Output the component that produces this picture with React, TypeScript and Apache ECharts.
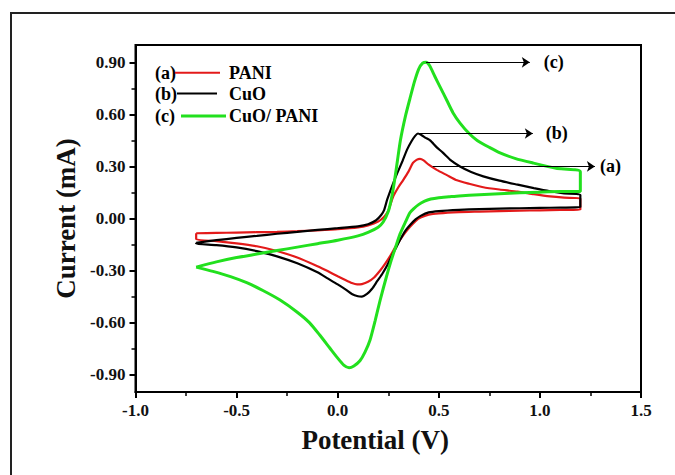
import React, { useEffect, useRef } from "react";
import * as echarts from "echarts";

const FONT = "'Liberation Serif', 'Times New Roman', serif";

const yMajorTicks = [-0.9, -0.6, -0.3, 0.0, 0.3, 0.6, 0.9];
const yMinorTicks = [-0.75, -0.45, -0.15, 0.15, 0.45, 0.75];

const seriesNames = ["PANI", "CuO", "CuO/ PANI"];
const seriesTags = ["(a)", "(b)", "(c)"];
const seriesColors = ["#e31a1a", "#000000", "#22e01e"];

// PANI (a) cyclic voltammogram [potential V, current mA]
const paniCV = [
  [-0.7, -0.085], [-0.6, -0.083], [-0.5, -0.081], [-0.4, -0.079], [-0.3, -0.077], [-0.2, -0.073],
  [-0.1, -0.068], [0.0, -0.062], [0.1, -0.052], [0.15, -0.04], [0.2, -0.018], [0.23, 0.01],
  [0.25, 0.045], [0.274, 0.125], [0.3, 0.18], [0.323, 0.22], [0.35, 0.27], [0.372, 0.32],
  [0.39, 0.338], [0.407, 0.344], [0.425, 0.335], [0.45, 0.31], [0.49, 0.28], [0.54, 0.25],
  [0.59, 0.22], [0.65, 0.2], [0.72, 0.18], [0.8, 0.167], [0.89, 0.155], [0.97, 0.14],
  [1.05, 0.127], [1.12, 0.12], [1.2, 0.115], [1.2, 0.05], [1.1, 0.049], [1.0, 0.047],
  [0.9, 0.045], [0.8, 0.043], [0.7, 0.04], [0.6, 0.037], [0.5, 0.03], [0.45, 0.022],
  [0.41, 0.005], [0.385, -0.015], [0.36, -0.045], [0.335, -0.08], [0.31, -0.12], [0.285, -0.165],
  [0.26, -0.215], [0.235, -0.26], [0.21, -0.3], [0.18, -0.34], [0.15, -0.365], [0.12, -0.378],
  [0.096, -0.38], [0.07, -0.372], [0.03, -0.35], [0.0, -0.333], [-0.05, -0.303], [-0.1, -0.275],
  [-0.2, -0.225], [-0.3, -0.187], [-0.4, -0.16], [-0.5, -0.143], [-0.6, -0.13], [-0.7, -0.12],
  [-0.7, -0.085],
];

// CuO (b)
const cuoCV = [
  [-0.7, -0.14], [-0.6, -0.125], [-0.5, -0.112], [-0.4, -0.1], [-0.3, -0.088], [-0.2, -0.077],
  [-0.1, -0.066], [0.0, -0.056], [0.1, -0.045], [0.15, -0.033], [0.19, -0.01], [0.215, 0.02],
  [0.23, 0.05], [0.245, 0.11], [0.27, 0.19], [0.294, 0.26], [0.32, 0.33], [0.343, 0.397],
  [0.365, 0.445], [0.382, 0.475], [0.397, 0.49], [0.415, 0.48], [0.435, 0.465], [0.457, 0.45],
  [0.49, 0.41], [0.52, 0.38], [0.56, 0.335], [0.605, 0.3], [0.66, 0.268], [0.72, 0.243],
  [0.8, 0.218], [0.89, 0.195], [0.97, 0.175], [1.05, 0.157], [1.12, 0.145], [1.2, 0.137],
  [1.2, 0.065], [1.1, 0.063], [1.0, 0.061], [0.9, 0.059], [0.8, 0.057], [0.7, 0.054],
  [0.6, 0.05], [0.5, 0.043], [0.45, 0.035], [0.41, 0.015], [0.385, -0.005], [0.36, -0.035],
  [0.335, -0.07], [0.31, -0.12], [0.29, -0.165], [0.27, -0.21], [0.245, -0.27], [0.22, -0.32],
  [0.196, -0.36], [0.17, -0.405], [0.145, -0.435], [0.12, -0.45], [0.1, -0.448], [0.07, -0.435],
  [0.04, -0.41], [0.0, -0.38], [-0.05, -0.345], [-0.1, -0.31], [-0.2, -0.258], [-0.3, -0.218],
  [-0.4, -0.188], [-0.5, -0.166], [-0.6, -0.153], [-0.7, -0.145], [-0.7, -0.14],
];

// CuO/PANI (c)
const cuoPaniCV = [
  [-0.7, -0.28], [-0.6, -0.25], [-0.5, -0.225], [-0.4, -0.205], [-0.3, -0.185], [-0.2, -0.165],
  [-0.1, -0.145], [0.0, -0.125], [0.1, -0.1], [0.15, -0.08], [0.2, -0.05], [0.225, -0.02],
  [0.25, 0.04], [0.265, 0.11], [0.28, 0.21], [0.295, 0.33], [0.31, 0.45], [0.335, 0.59],
  [0.357, 0.69], [0.38, 0.79], [0.4, 0.86], [0.42, 0.895], [0.437, 0.9], [0.455, 0.88],
  [0.48, 0.82], [0.51, 0.75], [0.54, 0.68], [0.57, 0.61], [0.605, 0.55], [0.65, 0.49],
  [0.69, 0.45], [0.75, 0.41], [0.8, 0.38], [0.88, 0.345], [0.966, 0.32], [1.08, 0.29],
  [1.2, 0.27], [1.2, 0.155], [1.1, 0.155], [1.0, 0.152], [0.9, 0.148], [0.8, 0.143],
  [0.7, 0.137], [0.6, 0.13], [0.55, 0.125], [0.5, 0.12], [0.46, 0.112], [0.43, 0.1],
  [0.4, 0.08], [0.375, 0.055], [0.357, 0.033], [0.335, -0.02], [0.308, -0.09], [0.285, -0.17],
  [0.265, -0.24], [0.24, -0.34], [0.21, -0.47], [0.185, -0.59], [0.16, -0.7], [0.135, -0.77],
  [0.11, -0.82], [0.08, -0.85], [0.056, -0.86], [0.03, -0.845], [0.0, -0.805], [-0.04, -0.745],
  [-0.09, -0.67], [-0.14, -0.6], [-0.2, -0.54], [-0.285, -0.47], [-0.37, -0.415], [-0.45, -0.37],
  [-0.53, -0.335], [-0.617, -0.305], [-0.7, -0.28],
];

// Peak-marker arrows: [startV, endV, current]
const arrowA = [0.47, 1.272, 0.3];
const arrowB = [0.397, 0.965, 0.49];
const arrowC = [0.437, 0.95, 0.9];

function arrowMark(a: number[], tag: string, dist: number) {
  return {
    silent: true,
    symbol: ["none", "arrow"],
    symbolSize: 8,
    lineStyle: { color: "#000", width: 1.2, type: "solid" },
    label: {
      show: true,
      position: "end",
      formatter: tag,
      color: "#000",
      fontFamily: FONT,
      fontWeight: "bold",
      fontSize: 18,
      distance: dist,
    },
    emphasis: { disabled: true },
    data: [[{ coord: [a[0], a[2]] }, { coord: [a[1], a[2]] }]],
  };
}

export default function App() {
  const ref = useRef<HTMLDivElement>(null);
  useEffect(() => {
    if (!ref.current) return;
    const chart = echarts.init(ref.current, null, { renderer: "svg" });
    const labelStyle = { color: "#111", fontFamily: FONT, fontWeight: "bold" as const, fontSize: 17 };
    const legendRows = [72.7, 93.5, 116];
    const legendLines = [
      [175, 220],
      [177, 217],
      [181, 226],
    ];
    const legendWidths = [2, 2, 3];
    const graphic: any[] = [
      {
        type: "rect",
        silent: true,
        shape: { x: 11, y: 13, width: 760, height: 560 },
        style: { fill: "none", stroke: "#222", lineWidth: 2 },
      },
    ];
    seriesNames.forEach((name, i) => {
      graphic.push({
        type: "text",
        x: 155,
        y: legendRows[i],
        style: { text: seriesTags[i], font: `bold 18px ${FONT}`, fill: "#000", verticalAlign: "middle" },
      });
      graphic.push({
        type: "line",
        shape: { x1: legendLines[i][0], y1: legendRows[i], x2: legendLines[i][1], y2: legendRows[i] },
        style: { stroke: seriesColors[i], lineWidth: legendWidths[i] },
      });
      graphic.push({
        type: "text",
        x: 229,
        y: legendRows[i],
        style: { text: name, font: `bold 18px ${FONT}`, fill: "#000", verticalAlign: "middle" },
      });
    });

    const hiddenLine = { show: false, onZero: false };
    chart.setOption({
      animation: false,
      backgroundColor: "#fff",
      grid: {
        left: 135.5,
        top: 45,
        right: 34,
        bottom: 83,
        show: true,
        borderColor: "#000",
        borderWidth: 2,
        backgroundColor: "transparent",
      },
      xAxis: {
        type: "value",
        min: -1,
        max: 1.5,
        interval: 0.5,
        axisLine: { show: true, onZero: false, lineStyle: { color: "#000", width: 2 } },
        axisTick: { show: true, length: 6, lineStyle: { color: "#000", width: 2 } },
        minorTick: { show: true, splitNumber: 2, length: 4, lineStyle: { color: "#000", width: 1.5 } },
        splitLine: { show: false },
        minorSplitLine: { show: false },
        axisLabel: {
          ...labelStyle,
          margin: 10,
          formatter: (v: number) => v.toFixed(1),
        },
        name: "Potential (V)",
        nameLocation: "middle",
        nameGap: 34,
        nameTextStyle: { color: "#111", fontFamily: FONT, fontWeight: "bold", fontSize: 27, padding: [0, 26, 0, 0] },
      },
      yAxis: [
        {
          type: "value",
          min: -1,
          max: 1,
          position: "left",
          axisLine: { show: true, onZero: false, lineStyle: { color: "#000", width: 2 } },
          axisTick: { show: false },
          splitLine: { show: false },
          axisLabel: {
            ...labelStyle,
            margin: 10,
            customValues: yMajorTicks,
            formatter: (v: number) => v.toFixed(2),
          },
          name: "Current (mA)",
          nameLocation: "middle",
          nameGap: 52,
          nameTextStyle: { color: "#111", fontFamily: FONT, fontWeight: "bold", fontSize: 27 },
        },
        {
          type: "value",
          min: -1,
          max: 1,
          position: "left",
          offset: 0,
          axisLine: hiddenLine,
          axisTick: { show: true, length: 6, customValues: yMajorTicks, lineStyle: { color: "#000", width: 2 } },
          axisLabel: { show: false },
          splitLine: { show: false },
        },
        {
          type: "value",
          min: -1,
          max: 1,
          position: "left",
          offset: 0,
          axisLine: hiddenLine,
          axisTick: { show: true, length: 4, customValues: yMinorTicks, lineStyle: { color: "#000", width: 1.5 } },
          axisLabel: { show: false },
          splitLine: { show: false },
        },
      ],
      series: [
        {
          name: seriesNames[0],
          type: "line",
          data: paniCV,
          showSymbol: false,
          smooth: 0.2,
          lineStyle: { color: seriesColors[0], width: 2.2 },
          itemStyle: { color: seriesColors[0] },
          markLine: arrowMark(arrowA, seriesTags[0], 5),
          z: 2,
        },
        {
          name: seriesNames[1],
          type: "line",
          data: cuoCV,
          showSymbol: false,
          smooth: 0.2,
          lineStyle: { color: seriesColors[1], width: 2.2 },
          itemStyle: { color: seriesColors[1] },
          markLine: arrowMark(arrowB, seriesTags[1], 13),
          z: 3,
        },
        {
          name: seriesNames[2],
          type: "line",
          data: cuoPaniCV,
          showSymbol: false,
          smooth: 0.2,
          lineStyle: { color: seriesColors[2], width: 3 },
          itemStyle: { color: seriesColors[2] },
          markLine: arrowMark(arrowC, seriesTags[2], 14),
          z: 4,
        },
      ],
      graphic,
    });
    return () => chart.dispose();
  }, []);
  return (
    <div
      ref={ref}
      style={{ position: "fixed", left: 0, top: 0, width: 675, height: 475, background: "#fff" }}
    />
  );
}
